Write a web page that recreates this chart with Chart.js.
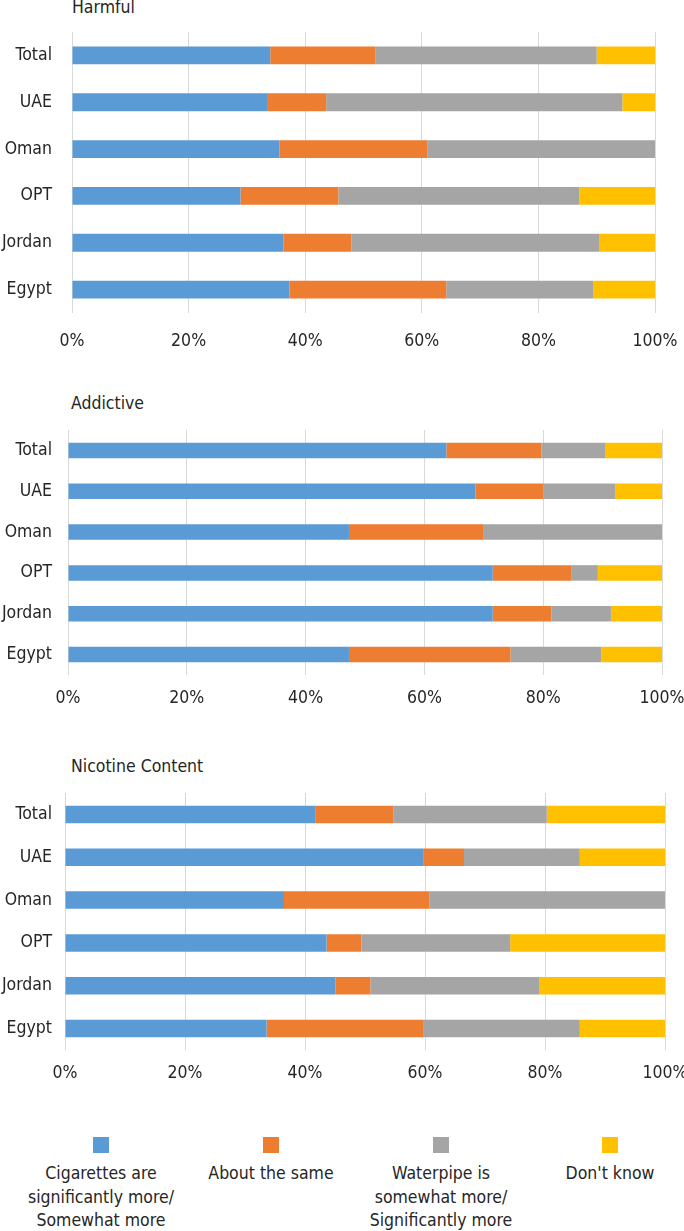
<!DOCTYPE html>
<html>
<head>
<meta charset="utf-8">
<script src="https://cdn.jsdelivr.net/npm/chart.js@4.4.1/dist/chart.umd.min.js"></script>
<style>
body { margin: 0; width: 684px; height: 1231px; background: #fff; position: relative; overflow: hidden;
       font-family: "DejaVu Sans Condensed", "Roboto", sans-serif; color: #262626; }
.box { position: absolute; left: 0; width: 684px; }
.title { position: absolute; font-size: 17.5px; line-height: 24px; }
.legend-item { position: absolute; top: 1137px; width: 170px; text-align: center; font-size: 17.5px; line-height: 23.5px; white-space: pre-line; }
.legend-item span { display: block; width: 16px; height: 16px; margin: 0 auto 9px; }
</style>
</head>
<body>
<div class="title" style="left:72px; top:-5px;">Harmful</div>
<div class="box" style="top:0; height:353px;"><canvas id="harmfulChart"></canvas></div>

<div class="title" style="left:71px; top:391px;">Addictive</div>
<div class="box" style="top:380px; height:335px;"><canvas id="addictiveChart"></canvas></div>

<div class="title" style="left:71px; top:754px;">Nicotine Content</div>
<div class="box" style="top:750px; height:340px;"><canvas id="nicotineChart"></canvas></div>

<div id="legend"></div>

<script>
//categories and series
const categories = ["Total", "UAE", "Oman", "OPT", "Jordan", "Egypt"];
const seriesNames = [
    "Cigarettes are\nsignificantly more/\nSomewhat more",
    "About the same",
    "Waterpipe is\nsomewhat more/\nSignificantly more",
    "Don't know"
];
const seriesColors = ["#5b9bd5", "#ed7d31", "#a5a5a5", "#ffc000"];
const xTicks = [0, 20, 40, 60, 80, 100];

//harmful (%)
const harmfulCig      = [34.0, 33.6, 35.6, 28.9, 36.3, 37.3];
const harmfulSame     = [18.0, 10.0, 25.4, 16.8, 11.6, 26.9];
const harmfulPipe     = [38.0, 50.8, 39.0, 41.3, 42.5, 25.2];
const harmfulDontKnow = [10.0, 5.6, 0, 13.0, 9.6, 10.6];

//addictive (%)
const addictiveCig      = [63.7, 68.6, 47.3, 71.5, 71.5, 47.3];
const addictiveSame     = [16.0, 11.4, 22.7, 13.2, 9.9, 27.2];
const addictivePipe     = [10.8, 12.1, 30.0, 4.5, 10.0, 15.3];
const addictiveDontKnow = [9.5, 7.9, 0, 10.8, 8.6, 10.2];

//nicotine content (%)
const nicotineCig      = [41.8, 59.8, 36.5, 43.6, 45.1, 33.6];
const nicotineSame     = [12.9, 6.7, 24.2, 5.8, 5.8, 26.2];
const nicotinePipe     = [25.6, 19.3, 39.3, 24.8, 28.2, 26.0];
const nicotineDontKnow = [19.7, 14.2, 0, 25.8, 20.9, 14.2];

const textColor = "#262626";
const gridColor = "#d9d9d9";
const font = { family: "'DejaVu Sans Condensed', Roboto, sans-serif", size: 17.5 };

function buildChart(canvasId, values, opt) {
    return new Chart(document.getElementById(canvasId), {
        type: "bar",
        data: {
            labels: categories,
            datasets: values.map((data, i) => ({
                label: seriesNames[i],
                data,
                backgroundColor: seriesColors[i],
                barPercentage: opt.bar,
                categoryPercentage: 1
            }))
        },
        options: {
            indexAxis: "y",
            responsive: true,
            maintainAspectRatio: false,
            animation: false,
            layout: { padding: { top: opt.top, right: opt.right, left: 0, bottom: 0 } },
            plugins: { legend: { display: false }, tooltip: { enabled: false } },
            scales: {
                x: {
                    stacked: true,
                    min: xTicks[0],
                    max: xTicks[xTicks.length - 1],
                    afterBuildTicks: s => { s.ticks = xTicks.map(v => ({ value: v })); },
                    ticks: { callback: v => v + "%", padding: opt.xPad, color: textColor, font, maxRotation: 0 },
                    grid: { color: gridColor, drawTicks: false },
                    border: { display: false },
                    afterFit: s => { s.height = 40; s.paddingLeft = 0; s.paddingRight = 0; }
                },
                y: {
                    stacked: true,
                    ticks: { padding: opt.yPad, color: textColor, font },
                    grid: { display: false, drawTicks: false },
                    border: { display: false },
                    afterFit: s => { s.width = opt.left; s.paddingTop = 0; s.paddingBottom = 0; }
                }
            }
        }
    });
}

buildChart("harmfulChart", [harmfulCig, harmfulSame, harmfulPipe, harmfulDontKnow],
    { top: 32, right: 29, left: 72, yPad: 20, xPad: 18, bar: 0.38 });
buildChart("addictiveChart", [addictiveCig, addictiveSame, addictivePipe, addictiveDontKnow],
    { top: 50, right: 22, left: 68, yPad: 16, xPad: 13, bar: 0.38 });
buildChart("nicotineChart", [nicotineCig, nicotineSame, nicotinePipe, nicotineDontKnow],
    { top: 43, right: 19, left: 65, yPad: 13, xPad: 13, bar: 0.41 });

//legend
const legendCenters = [101, 271, 441, 610];
const legendEl = document.getElementById("legend");
seriesNames.forEach((name, i) => {
    const item = document.createElement("div");
    item.className = "legend-item";
    item.style.left = (legendCenters[i] - 85) + "px";
    const swatch = document.createElement("span");
    swatch.style.background = seriesColors[i];
    item.appendChild(swatch);
    item.appendChild(document.createTextNode(name));
    legendEl.appendChild(item);
});
</script>
</body>
</html>
